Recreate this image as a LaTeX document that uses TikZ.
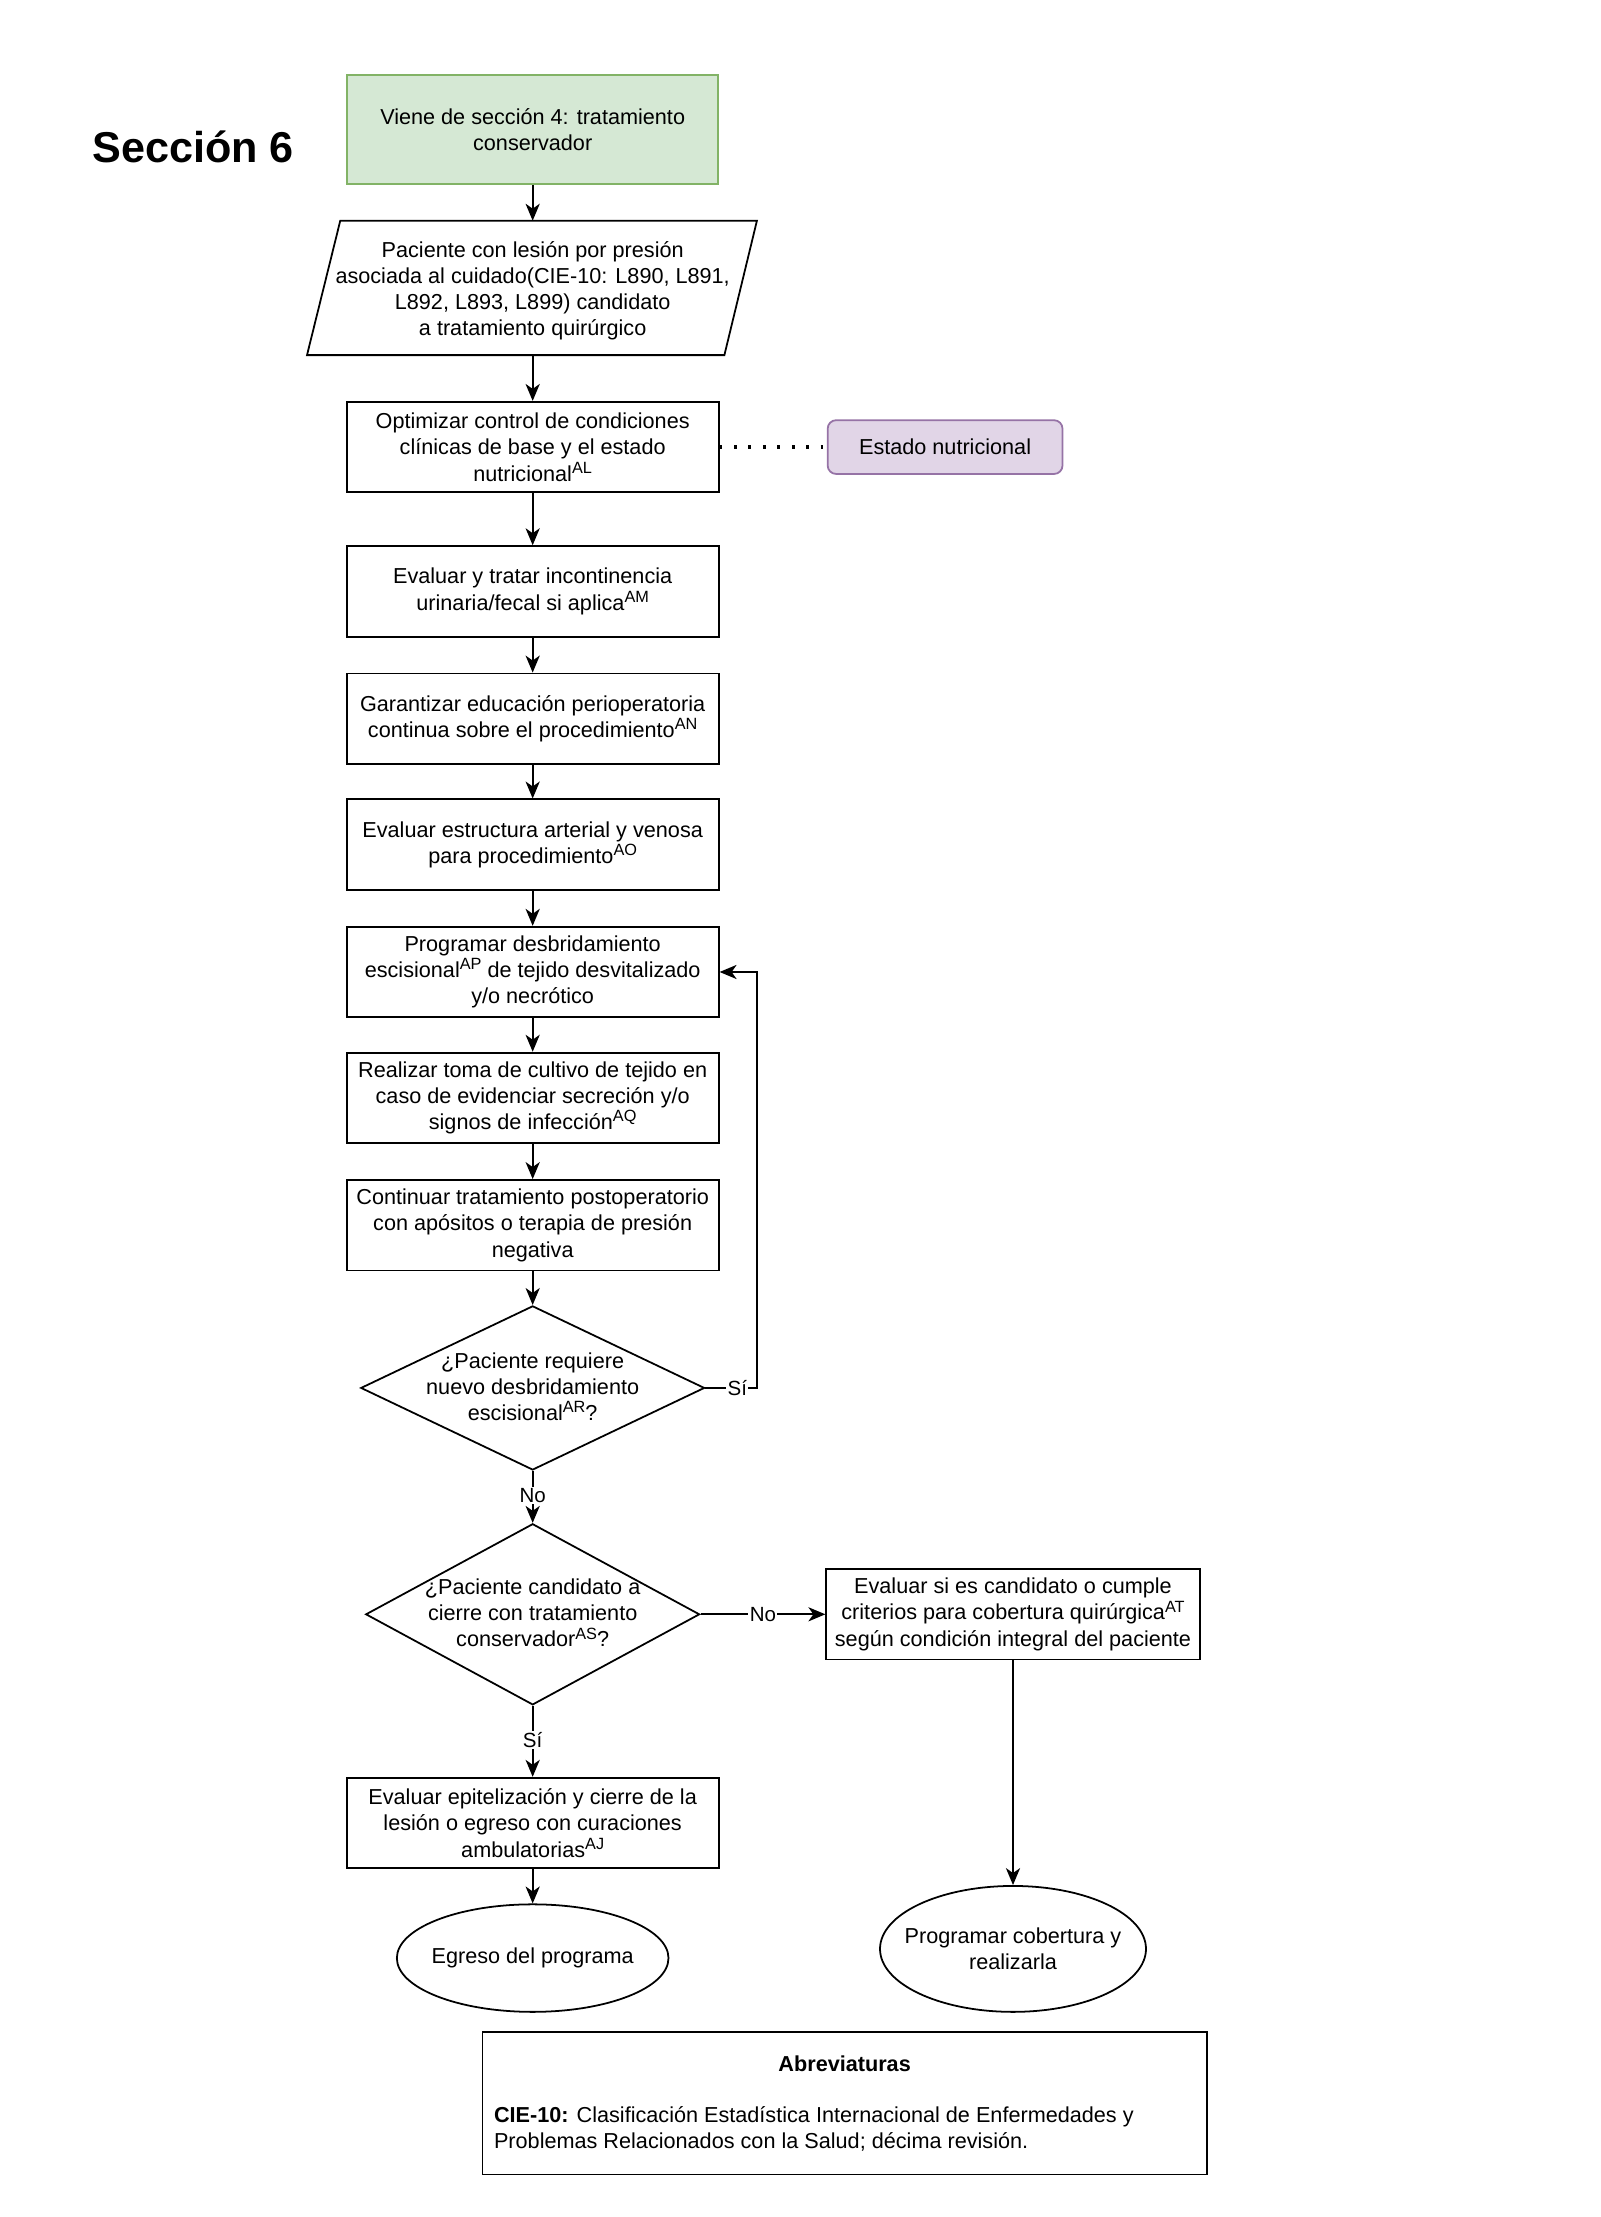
\documentclass[tikz,border=0pt]{standalone}
\usepackage{fontspec}
\setmainfont{Liberation Sans}
\usetikzlibrary{shapes.geometric,arrows.meta,calc}
\definecolor{gfill}{HTML}{D5E8D4}
\definecolor{gdraw}{HTML}{82B366}
\definecolor{pfill}{HTML}{E1D5E7}
\definecolor{pdraw}{HTML}{9673A6}
\newcommand\spx[1]{\raisebox{5.5pt}{\fontsize{11.5}{11.5}\selectfont #1}}
\begin{document}
\begin{tikzpicture}[x=1pt,y=-1pt,
  every node/.style={font=\fontsize{15.3}{18.5}\selectfont},
  proc/.style={draw, line width=1.25pt, minimum width=263, minimum height=64, align=center, inner sep=2pt},
  dia/.style={draw, shape=diamond, line width=1.25pt, inner sep=0pt},
  ell/.style={draw, shape=ellipse, line width=1.25pt, inner sep=0pt},
  arr/.style={-{Stealth[length=12pt,width=10pt,inset=3.5pt]}, line width=1.25pt},
  lbl/.style={fill=white, inner sep=1pt, font=\fontsize{14.5}{16}\selectfont}
]
\useasboundingbox (0,0) rectangle (1131,1567);

\node[font=\fontsize{30.5}{36}\selectfont\bfseries, anchor=west, inner sep=0pt] (title) at (65,104) {Sección 6};

\node[proc, draw=gdraw, fill=gfill, minimum width=262, minimum height=77] (start) at (376.5,91.5) {Viene de sección 4: tratamiento\\conservador};

\draw[line width=1.25pt] (240.5,156) -- (535,156) -- (512,251) -- (217,251) -- cycle;
\coordinate (pactop) at (376.5,156);
\coordinate (pacbot) at (376.5,251);
\node[align=center, inner sep=0pt] (pac) at (376.5,205.5) {Paciente con lesión por presión\\asociada al cuidado(CIE-10: L890, L891,\\L892, L893, L899) candidato\\a tratamiento quirúrgico};

\node[proc] (b1) at (376.5,316) {Optimizar control de condiciones\\clínicas de base y el estado\\nutricional\spx{AL}};
\node[draw=pdraw, fill=pfill, line width=1.25pt, rounded corners=6pt, minimum width=166, minimum height=38] (nut) at (668,316) {Estado nutricional};

\node[proc] (b2) at (376.5,418) {Evaluar y tratar incontinencia\\urinaria/fecal si aplica\spx{AM}};
\node[proc] (b3) at (376.5,508) {Garantizar educación perioperatoria\\continua sobre el procedimiento\spx{AN}};
\node[proc] (b4) at (376.5,597) {Evaluar estructura arterial y venosa\\para procedimiento\spx{AO}};
\node[proc] (b5) at (376.5,687) {Programar desbridamiento\\escisional\spx{AP} de tejido desvitalizado\\y/o necrótico};
\node[proc] (b6) at (376.5,776) {Realizar toma de cultivo de tejido en\\caso de evidenciar secreción y/o\\signos de infección\spx{AQ}};
\node[proc] (b7) at (376.5,866) {Continuar tratamiento postoperatorio\\con apósitos o terapia de presión\\negativa};

\node[dia, minimum width=243, minimum height=116] (d1) at (376.5,981) {};
\node[align=center, inner sep=0pt] (d1t) at (376.5,980) {¿Paciente requiere\\nuevo desbridamiento\\escisional\spx{AR}?};

\node[dia, minimum width=236, minimum height=128] (d2) at (376.5,1141) {};
\node[align=center, inner sep=0pt] (d2t) at (376.5,1140) {¿Paciente candidato a\\cierre con tratamiento\\conservador\spx{AS}?};

\node[proc, minimum width=264] (rb) at (716,1141) {Evaluar si es candidato o cumple\\criterios para cobertura quirúrgica\spx{AT}\\según condición integral del paciente};
\node[ell, minimum width=188, minimum height=89] (er) at (716,1377.5) {};
\node[align=center, inner sep=0pt] (ert) at (716,1377.5) {Programar cobertura y\\realizarla};

\node[proc] (b8) at (376.5,1288.5) {Evaluar epitelización y cierre de la\\lesión o egreso con curaciones\\ambulatorias\spx{AJ}};
\node[ell, minimum width=192, minimum height=76] (el) at (376.5,1384) {};
\node[inner sep=0pt] (elt) at (376.5,1384) {Egreso del programa};

\node[draw, line width=1.25pt, minimum width=512, minimum height=101] (abr) at (597,1486.5) {};
\node[font=\fontsize{15.3}{18.5}\selectfont\bfseries] (abrt) at (597,1459) {Abreviaturas};
\node[anchor=west, align=left, inner sep=0pt] (abrb) at (349,1505) {\textbf{CIE-10:} Clasificación Estadística Internacional de Enfermedades y\\Problemas Relacionados con la Salud; décima revisión.};

% connectors
\draw[arr] (start.south) -- (pactop);
\draw[arr] (pacbot) -- (b1.north);
\draw[line width=2.4pt, dash pattern=on 2pt off 8.2pt] (b1.east) -- (nut.west);
\draw[arr] (b1.south) -- (b2.north);
\draw[arr] (b2.south) -- (b3.north);
\draw[arr] (b3.south) -- (b4.north);
\draw[arr] (b4.south) -- (b5.north);
\draw[arr] (b5.south) -- (b6.north);
\draw[arr] (b6.south) -- (b7.north);
\draw[arr] (b7.south) -- (d1.north);
\coordinate (loopc) at (535,981);
\draw[arr] (d1.east) -- node[lbl, pos=0.62] (ls1) {Sí} (loopc) |- (b5.east);
\draw[arr] (d1.south) -- node[lbl, pos=0.47] (ln1) {No} (d2.north);
\draw[arr] (d2.east) -- node[lbl, pos=0.5] (ln2) {No} (rb.west);
\draw[arr] (d2.south) -- node[lbl, pos=0.48] (ls2) {Sí} (b8.north);
\draw[arr] (b8.south) -- (el.north);
\draw[arr] (rb.south) -- (er.north);
\end{tikzpicture}
\end{document}
